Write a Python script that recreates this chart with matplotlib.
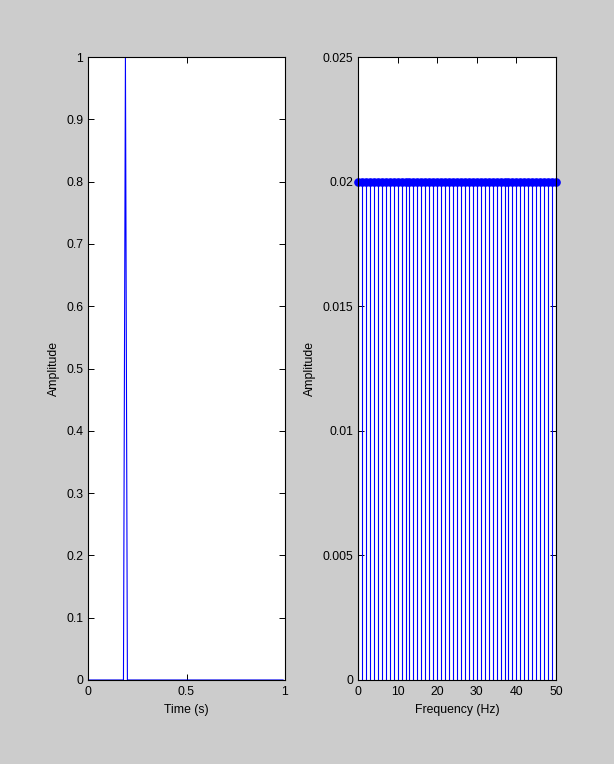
import numpy as np
import matplotlib
matplotlib.use("Agg")
import matplotlib.pyplot as plt

# Data
fs = 100
t = np.arange(100) / fs
signal = np.zeros(100)
signal[19] = 1.0
freqs = np.arange(51)
spectrum = np.full(51, 0.02)

left_yticks = [0, 0.1, 0.2, 0.3, 0.4, 0.5, 0.6, 0.7, 0.8, 0.9, 1]
left_ytick_labels = ["0", "0.1", "0.2", "0.3", "0.4", "0.5", "0.6", "0.7", "0.8", "0.9", "1"]
left_xticks = [0, 0.5, 1]
left_xtick_labels = ["0", "0.5", "1"]
right_yticks = [0, 0.005, 0.01, 0.015, 0.02, 0.025]
right_ytick_labels = ["0", "0.005", "0.01", "0.015", "0.02", "0.025"]
right_xticks = [0, 10, 20, 30, 40, 50]
right_xtick_labels = ["0", "10", "20", "30", "40", "50"]

plt.rcParams['font.family'] = ['Liberation Sans', 'DejaVu Sans']
fs_txt = 8.8
bg = '#cccccc'
blue = '#0000ff'

fig = plt.figure(figsize=(6.14, 7.64), dpi=100, facecolor=bg)

def style(ax):
    ax.tick_params(direction='in', top=True, right=True, length=4, width=0.7,
                   labelsize=fs_txt, pad=3.5)
    ax.tick_params(axis='x', pad=4)
    for s in ax.spines.values():
        s.set_linewidth(0.8)
        s.set_color('black')

ax1 = fig.add_axes([88/614, 1-680/764, 197/614, 623/764])
ax1.plot(t, signal, color=blue, linewidth=0.8)
ax1.set_xlim(0, 1)
ax1.set_ylim(0, 1)
ax1.set_xticks(left_xticks)
ax1.set_xticklabels(left_xtick_labels)
ax1.set_yticks(left_yticks)
ax1.set_yticklabels(left_ytick_labels)
ax1.set_xlabel("Time (s)", fontsize=fs_txt, labelpad=4.5)
ax1.set_ylabel("Amplitude", fontsize=fs_txt, labelpad=4.5)
style(ax1)

ax2 = fig.add_axes([358/614, 1-680/764, 198/614, 623/764])
ml, sl, bl = ax2.stem(freqs, spectrum, basefmt=' ')
plt.setp(sl, color=blue, linewidth=0.8)
plt.setp(ml, color=blue, markerfacecolor=blue, markeredgecolor=blue, markersize=5.2)
ml.set_clip_on(False)
ax2.set_xlim(0, 50)
ax2.set_ylim(0, 0.025)
ax2.set_xticks(right_xticks)
ax2.set_xticklabels(right_xtick_labels)
ax2.set_yticks(right_yticks)
ax2.set_yticklabels(right_ytick_labels)
ax2.set_xlabel("Frequency (Hz)", fontsize=fs_txt, labelpad=4.5)
ax2.set_ylabel("Amplitude", fontsize=fs_txt, labelpad=4.5)
style(ax2)

fig.savefig("out.png", dpi=100, facecolor=bg)
